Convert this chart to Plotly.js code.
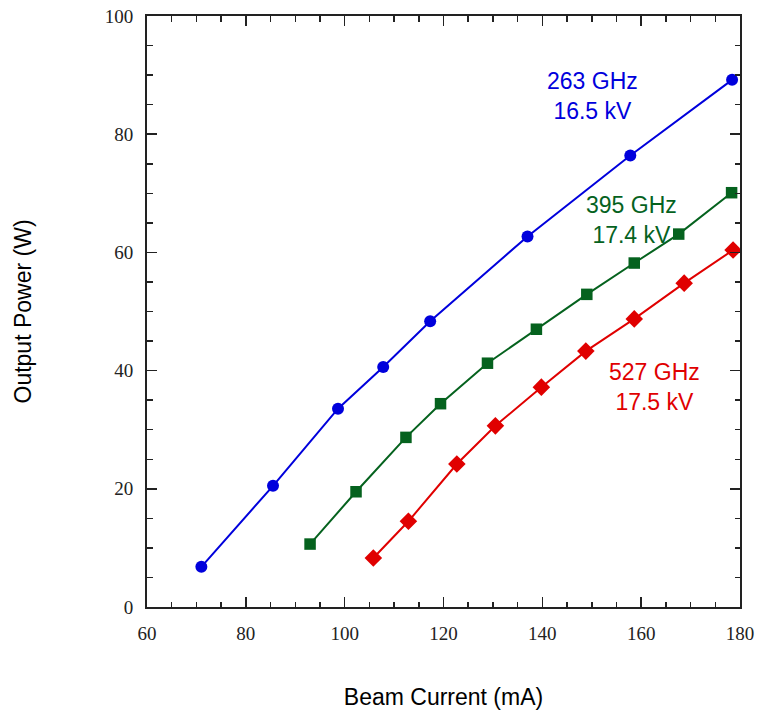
<!DOCTYPE html>
<html>
<head>
<meta charset="utf-8">
<script src="https://cdn.plot.ly/plotly-3.0.1.min.js"></script>
<style>html,body{margin:0;padding:0;background:#fff}#chart{width:757px;height:712px}</style>
</head>
<body>
<div id="chart"></div>
<script>
// Data
const x263 = [71.0, 85.5, 98.65, 107.8, 117.3, 137.0, 157.8, 178.4];
const y263 = [6.8, 20.5, 33.55, 40.6, 48.35, 62.7, 76.4, 89.2];
const x395 = [93.0, 102.3, 112.4, 119.4, 128.9, 138.8, 149.0, 158.6, 167.6, 178.3];
const y395 = [10.65, 19.5, 28.7, 34.4, 41.25, 47.0, 52.9, 58.2, 63.1, 70.1];
const x527 = [105.8, 112.9, 122.7, 130.5, 139.8, 148.8, 158.6, 168.7, 178.6];
const y527 = [8.3, 14.5, 24.2, 30.65, 37.2, 43.3, 48.75, 54.8, 60.4];
const labels = ["263 GHz<br>16.5 kV", "395 GHz<br>17.4 kV", "527 GHz<br>17.5 kV"];
const xTicks = [60, 80, 100, 120, 140, 160, 180];
const yTicks = [0, 20, 40, 60, 80, 100];

const blue = "#0000dc", green = "#05621e", red = "#e00000";
const sans = "Liberation Sans, Arial, sans-serif";

const traces = [
  {x: x263, y: y263, mode: "lines+markers", line: {color: blue, width: 2}, marker: {symbol: "circle", size: 12, color: blue}},
  {x: x395, y: y395, mode: "lines+markers", line: {color: green, width: 2}, marker: {symbol: "square", size: 11.5, color: green}},
  {x: x527, y: y527, mode: "lines+markers", line: {color: red, width: 2}, marker: {symbol: "diamond", size: 13.5, color: red}},
  // empty helper trace so the mirrored (top/right) axes with minor ticks are drawn
  {x: xTicks, y: yTicks, mode: "none", xaxis: "x2", yaxis: "y2", hoverinfo: "skip"}
];

const tickStyle = {
  showgrid: false, zeroline: false, showline: true, linecolor: "#222", linewidth: 2,
  ticks: "inside", ticklen: 10, tickwidth: 1.5, tickcolor: "#222",
  tickfont: {family: "Liberation Serif, Times New Roman, serif", size: 19, color: "#222"},
  minor: {dtick: 5, ticks: "inside", ticklen: 5.5, tickwidth: 1.5, tickcolor: "#222", showgrid: false}
};

const layout = {
  width: 757, height: 712,
  margin: {l: 147, r: 17, t: 16, b: 105},
  paper_bgcolor: "#fff", plot_bgcolor: "#fff",
  showlegend: false,
  font: {family: sans, color: "#000"},
  xaxis: Object.assign({}, tickStyle, {
    range: [60, 180], tickvals: xTicks, ticktext: xTicks.map(String), ticklabelstandoff: 8,
    title: {text: "Beam Current (mA)", font: {family: sans, size: 23, color: "#000"}, standoff: 46}
  }),
  yaxis: Object.assign({}, tickStyle, {
    range: [0, 100], tickvals: yTicks, ticktext: yTicks.map(String), ticklabelstandoff: 8,
    title: {text: "Output Power (W)", font: {family: sans, size: 23, color: "#000"}, standoff: 67}
  }),
  xaxis2: Object.assign({}, tickStyle, {
    overlaying: "x", side: "top", anchor: "y2", range: [60, 180], tickvals: xTicks, showticklabels: false
  }),
  yaxis2: Object.assign({}, tickStyle, {
    overlaying: "y", side: "right", anchor: "x2", range: [0, 100], tickvals: yTicks, showticklabels: false
  }),
  annotations: [
    {x: 150.25, y: 86.4, text: labels[0], showarrow: false, font: {size: 23, color: blue, family: sans}},
    {x: 158.0, y: 65.5, text: labels[1], showarrow: false, font: {size: 23, color: green, family: sans}},
    {x: 162.6, y: 37.2, text: labels[2], showarrow: false, font: {size: 23, color: red, family: sans}}
  ]
};

Plotly.newPlot("chart", traces, layout, {displayModeBar: false, staticPlot: true});
</script>
</body>
</html>
